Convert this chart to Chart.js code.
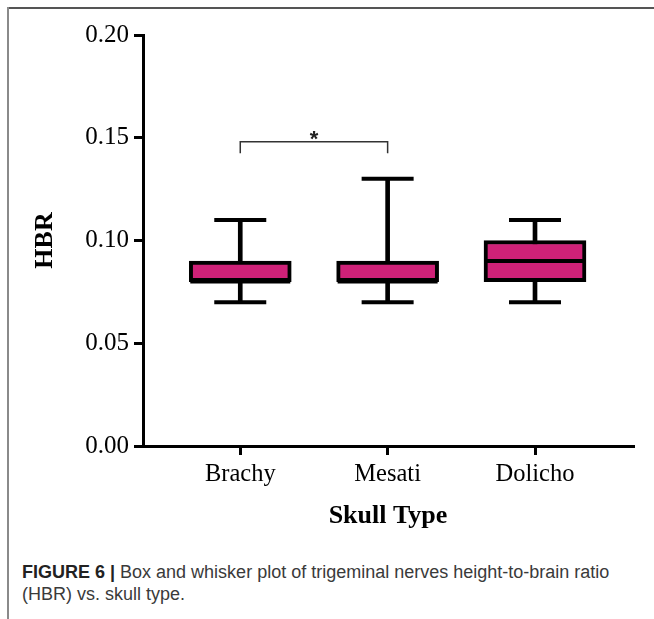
<!DOCTYPE html>
<html>
<head>
<meta charset="utf-8">
<script src="https://cdn.jsdelivr.net/npm/chart.js@4"></script>
<style>
  html, body { margin: 0; padding: 0; background: #fff; }
  #page { position: relative; width: 654px; height: 619px; overflow: hidden; }
  #frameTop { position: absolute; left: 7px; top: 7px; width: 647px; height: 2px; background: #555; }
  #frameLeft { position: absolute; left: 7px; top: 7px; width: 2px; height: 612px; background: #8a8a8a; }
  #wrap { position: absolute; left: 0; top: 0; width: 654px; height: 540px; }
  #caption {
    position: absolute; left: 22px; top: 561px; width: 612px;
    font-family: "Liberation Sans", Arial, sans-serif; font-size: 18px; line-height: 22px; color: #3a3a3a;
  }
  #caption b { color: #222; }
</style>
</head>
<body>
<div id="page">
  <div id="frameTop"></div>
  <div id="frameLeft"></div>
  <div id="wrap"><canvas id="hbrChart" width="654" height="540"></canvas></div>
  <div id="caption"><b>FIGURE 6 |</b> Box and whisker plot of trigeminal nerves height-to-brain ratio (HBR) vs. skull type.</div>
</div>
<script>
const categories = ['Brachy', 'Mesati', 'Dolicho'];
const mins = [0.07, 0.07, 0.07];
const q1s = [0.08, 0.08, 0.08];
const medians = [0.08, 0.08, 0.09];
const q3s = [0.09, 0.09, 0.10];
const maxs = [0.11, 0.13, 0.11];
const yTicks = [0, 0.05, 0.10, 0.15, 0.20];

// significance bracket between Brachy and Mesati
const sigPair = [0, 1];
const sigLevel = 0.148;
const sigDrop = 0.0055;
const sigLabel = '*';

const boxColour = '#CF2178';

const medianPoints = categories.map((c, i) => ({x: i, y: medians[i]}));
const boxBars = categories.map((c, i) => ({x: i, y: [q1s[i], q3s[i]]}));
const whiskerBars = categories.map((c, i) => ({x: i, y: [mins[i], maxs[i]]}));
let capPoints = [];
categories.forEach((c, i) => {
    capPoints.push({x: i, y: mins[i]});
    capPoints.push({x: i, y: maxs[i]});
});
const bracket = [
    {x: sigPair[0], y: sigLevel - sigDrop},
    {x: sigPair[0], y: sigLevel},
    {x: sigPair[1], y: sigLevel},
    {x: sigPair[1], y: sigLevel - sigDrop}
];

const starPlugin = {
    id: 'sigStar',
    afterDatasetsDraw(chart) {
        const xs = chart.scales.x;
        const ys = chart.scales.y;
        const ctx = chart.ctx;
        const x = (xs.getPixelForValue(sigPair[0]) + xs.getPixelForValue(sigPair[1])) / 2;
        const y = ys.getPixelForValue(sigLevel);
        ctx.save();
        ctx.fillStyle = '#222';
        ctx.font = 'bold 22px "Liberation Sans"';
        ctx.textAlign = 'center';
        ctx.textBaseline = 'alphabetic';
        ctx.fillText(sigLabel, x, y + 4);
        ctx.restore();
    }
};

// keep the axes where the reference has them, no extra room for edge labels
function noEdgePadding(s) {
    s.paddingTop = 0;
    s.paddingBottom = 0;
    s.paddingLeft = 0;
    s.paddingRight = 0;
}

const serif = '"Liberation Serif", "Times New Roman", serif';

new Chart(document.getElementById('hbrChart'), {
    type: 'bar',
    data: {
        datasets: [
            {
                type: 'line', data: medianPoints, showLine: false,
                pointStyle: 'line', pointRadius: 50, pointBorderWidth: 4,
                borderColor: '#000', pointBorderColor: '#000'
            },
            {
                type: 'line', data: bracket, borderColor: '#333', borderWidth: 1.5,
                pointRadius: 0, tension: 0, fill: false
            },
            {
                data: boxBars, backgroundColor: boxColour, borderColor: '#000',
                borderWidth: 4, borderSkipped: false, barThickness: 102, grouped: false
            },
            {
                type: 'line', data: capPoints, showLine: false,
                pointStyle: 'line', pointRadius: 26, pointBorderWidth: 4,
                borderColor: '#000', pointBorderColor: '#000'
            },
            {
                data: whiskerBars, backgroundColor: '#000', borderWidth: 0,
                barThickness: 4, grouped: false
            }
        ]
    },
    options: {
        responsive: false,
        animation: false,
        events: [],
        layout: {autoPadding: false, padding: {top: 35, right: 21, left: 0, bottom: 0}},
        plugins: {legend: {display: false}, tooltip: {enabled: false}},
        scales: {
            x: {
                type: 'linear',
                min: -0.66,
                max: 2.665,
                offset: false,
                grid: {offset: false, drawOnChartArea: false, drawTicks: true, tickLength: 9, color: '#000', lineWidth: 3},
                border: {display: true, color: '#000', width: 3},
                afterBuildTicks: s => { s.ticks = categories.map((c, i) => ({value: i})); },
                afterFit: s => { s.height = 94; noEdgePadding(s); },
                ticks: {
                    autoSkip: false, maxRotation: 0, padding: 5, color: '#000',
                    font: {family: serif, size: 24.5},
                    callback: v => categories[v]
                },
                title: {
                    display: true, text: 'Skull Type', color: '#000',
                    font: {family: serif, size: 26, weight: 'bold'},
                    padding: {top: 0, bottom: 8}
                }
            },
            y: {
                min: 0,
                max: 0.2,
                grid: {drawOnChartArea: false, drawTicks: true, tickLength: 9, color: '#000', lineWidth: 3},
                border: {display: true, color: '#000', width: 3},
                afterBuildTicks: s => { s.ticks = yTicks.map(v => ({value: v})); },
                afterFit: s => { s.width = 143; noEdgePadding(s); },
                ticks: {
                    padding: 5, color: '#000',
                    font: {family: serif, size: 25},
                    callback: v => v.toFixed(2)
                },
                title: {
                    display: true, text: 'HBR', color: '#000',
                    font: {family: serif, size: 26, weight: 'bold'},
                    padding: {top: 30, bottom: 0}
                }
            }
        }
    },
    plugins: [starPlugin]
});
</script>
</body>
</html>
